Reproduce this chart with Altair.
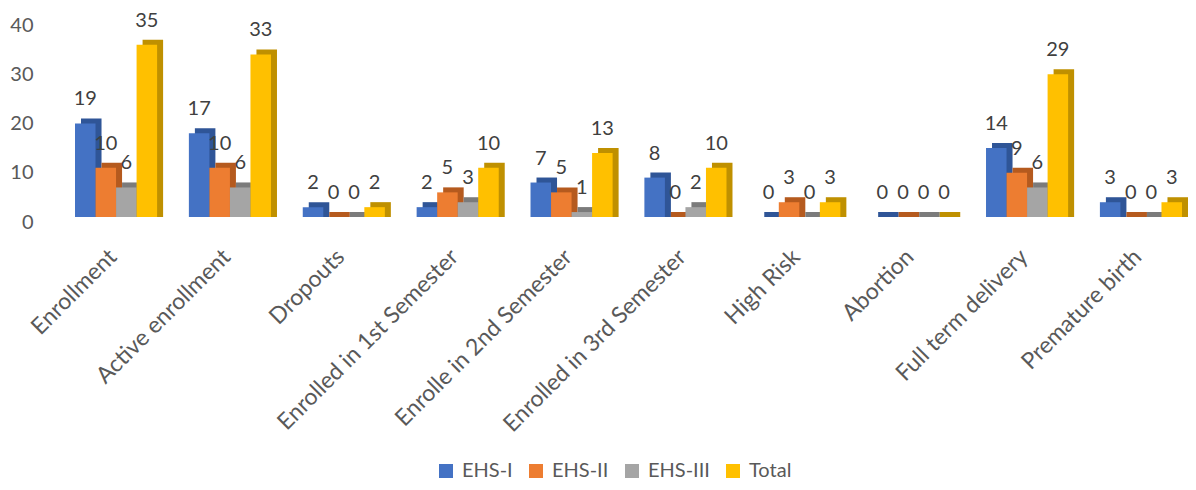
import altair as alt
import pandas as pd

categories = [
    "Enrollment",
    "Active enrollment",
    "Dropouts",
    "Enrolled in 1st Semester",
    "Enrolle in 2nd Semester",
    "Enrolled in 3rd Semester",
    "High Risk",
    "Abortion",
    "Full term delivery",
    "Premature birth",
]
series = ["EHS-I", "EHS-II", "EHS-III", "Total"]
ehs1 = [19, 17, 2, 2, 7, 8, 0, 0, 14, 3]
ehs2 = [10, 10, 0, 5, 5, 0, 3, 0, 9, 0]
ehs3 = [6, 6, 0, 3, 1, 2, 0, 0, 6, 0]
total = [35, 33, 2, 10, 13, 10, 3, 0, 29, 3]
y_ticks = [0, 10, 20, 30, 40]

front_colors = ["#4472C4", "#ED7D31", "#A5A5A5", "#FFC000"]
side_colors = ["#2F5597", "#B55A1E", "#7B7B7B", "#BF9000"]

rows = []
for i, c in enumerate(categories):
    for s, vals, dark in zip(series, [ehs1, ehs2, ehs3, total], side_colors):
        rows.append({"category": c, "series": s, "value": vals[i], "dark": dark})
df = pd.DataFrame(rows)

FONT = "Lato"
X_RANGE = [15, 1122]
P_INNER = 0.279
STEP = (X_RANGE[1] - X_RANGE[0]) / (len(categories) - P_INNER)
BAND = STEP * (1 - P_INNER)
DEPTH_X = 6
DEPTH_Y = 5

x = alt.X(
    "category:N",
    sort=categories,
    scale=alt.Scale(range=X_RANGE, paddingInner=P_INNER, paddingOuter=0),
    axis=alt.Axis(
        title=None,
        labelAngle=-45,
        labelAlign="right",
        labelBaseline="middle",
        labelFont=FONT,
        labelFontSize=23,
        labelColor="#595959",
        labelPadding=36,
        labelOffset=-3,
        ticks=False,
        tickSize=0,
        domain=False,
        labelLimit=400,
    ),
)


def xo(shift):
    return alt.XOffset(
        "series:N",
        sort=series,
        scale=alt.Scale(
            type="band",
            domain=series,
            range=[shift, shift + BAND],
            paddingInner=0,
            paddingOuter=0,
        ),
    )


y = alt.Y(
    "value:Q",
    stack=None,
    scale=alt.Scale(domain=[0, 40]),
    axis=alt.Axis(
        title=None,
        values=y_ticks,
        grid=False,
        domain=False,
        ticks=False,
        tickSize=0,
        labelPadding=27,
        labelOffset=5,
        labelFont=FONT,
        labelFontSize=20,
        labelColor="#595959",
    ),
)

shadow = alt.Chart().mark_bar(yOffset=-DEPTH_Y, y2Offset=0).encode(
    x=x,
    xOffset=xo(DEPTH_X),
    y=y,
    y2=alt.Y2Datum(0),
    color=alt.Color("dark:N", scale=None),
)

front = alt.Chart().mark_bar().encode(
    x=x,
    xOffset=xo(0),
    y=y,
    color=alt.Color(
        "series:N",
        sort=series,
        scale=alt.Scale(domain=series, range=front_colors),
        legend=alt.Legend(
            title=None,
            orient="none",
            legendX=376,
            legendY=441,
            direction="horizontal",
            gridAlign="none",
            symbolType="square",
            symbolSize=196,
            symbolStrokeWidth=0,
            labelFont=FONT,
            labelFontSize=20,
            labelColor="#595959",
            columnPadding=13,
            labelOffset=6,
            padding=0,
        ),
    ),
)

labels = alt.Chart().mark_text(
    dy=-24, font=FONT, fontSize=20, color="#404040", baseline="middle", align="center"
).encode(x=x, xOffset=xo(0), y=y, text="value:Q")

chart = (
    alt.layer(shadow, front, labels, data=df)
    .resolve_scale(xOffset="independent")
    .properties(
        width=1125,
        height=197,
        padding={"left": 52, "top": 12, "right": 3, "bottom": 265},
        autosize=alt.AutoSizeParams(type="none"),
    )
    .configure_view(stroke=None)
)

chart.save("out.html", embed_options={"renderer": "svg", "actions": False})
